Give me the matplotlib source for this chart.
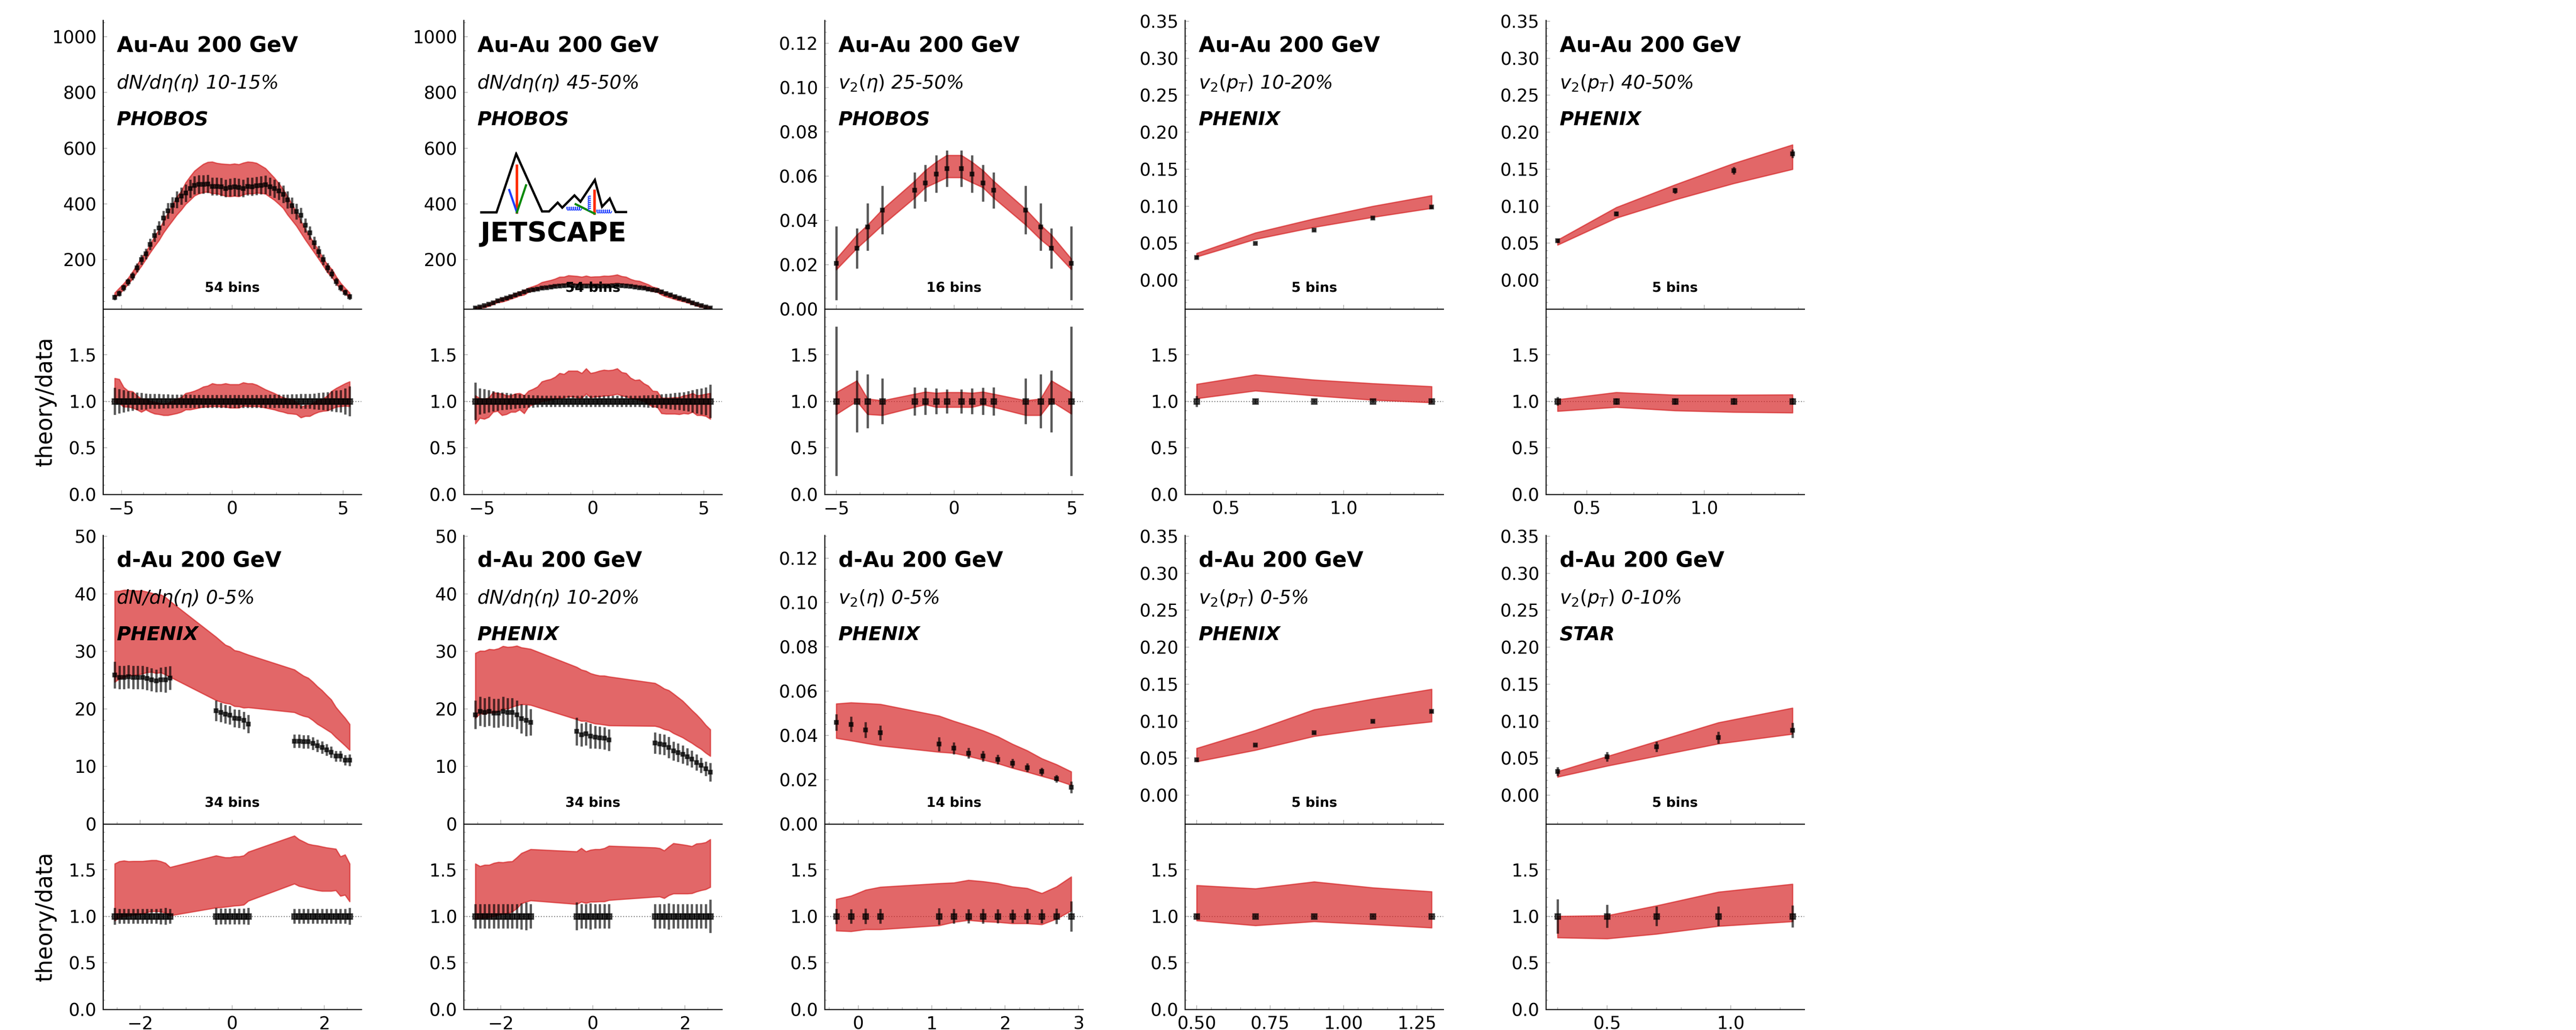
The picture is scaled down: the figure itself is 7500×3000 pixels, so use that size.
import numpy as np
import matplotlib
matplotlib.use('Agg')
import matplotlib.pyplot as plt
from matplotlib.ticker import MultipleLocator, AutoMinorLocator

plt.rcParams['font.family'] = ['DejaVu Sans']

# ---------------- data ----------------
# Au-Au 200 GeV, PHOBOS dN/deta, 54 bins
eta_auau = [-5.3, -5.1, -4.9, -4.7, -4.5, -4.3, -4.1, -3.9, -3.7, -3.5,
            -3.3, -3.1, -2.9, -2.7, -2.5, -2.3, -2.1, -1.9, -1.7, -1.5,
            -1.3, -1.1, -0.9, -0.7, -0.5, -0.3, -0.1, 0.1, 0.3, 0.5,
            0.7, 0.9, 1.1, 1.3, 1.5, 1.7, 1.9, 2.1, 2.3, 2.5,
            2.7, 2.9, 3.1, 3.3, 3.5, 3.7, 3.9, 4.1, 4.3, 4.5,
            4.7, 4.9, 5.1, 5.3]

dndeta_1015 = [65, 79, 99, 120, 141, 171, 200, 221, 255, 287,
               314, 349, 375, 395, 415, 428, 439, 455, 467, 470,
               470, 472, 463, 463, 461, 456, 459, 461, 459, 456,
               463, 462, 465, 467, 469, 462, 455, 447, 435, 415,
               394, 373, 359, 323, 296, 261, 229, 200, 171, 149,
               121, 99, 82, 67]
dndeta_1015_relerr = [0.145, 0.13, 0.12, 0.11, 0.10, 0.095, 0.09, 0.085, 0.08, 0.08,
                      0.078, 0.076, 0.075, 0.074, 0.073, 0.072, 0.072, 0.071, 0.07, 0.07,
                      0.07, 0.07, 0.07, 0.07, 0.07, 0.07, 0.07, 0.07, 0.07, 0.07,
                      0.07, 0.07, 0.07, 0.07, 0.07, 0.071, 0.072, 0.072, 0.073, 0.074,
                      0.075, 0.076, 0.078, 0.08, 0.08, 0.085, 0.09, 0.095, 0.10, 0.11,
                      0.115, 0.12, 0.14, 0.16]
dndeta_1015_hi = [1.246, 1.236, 1.15, 1.11, 1.105, 1.06, 1.025, 1.025, 1.0, 0.99,
                  0.98, 0.97, 0.98, 1.0, 1.025, 1.04, 1.085, 1.095, 1.11, 1.13,
                  1.155, 1.165, 1.19, 1.18, 1.18, 1.19, 1.18, 1.18, 1.18, 1.2,
                  1.19, 1.19, 1.175, 1.15, 1.125, 1.105, 1.085, 1.06, 1.04, 1.025,
                  1.015, 0.99, 0.94, 0.955, 0.955, 0.99, 1.015, 1.025, 1.06, 1.11,
                  1.14, 1.165, 1.19, 1.21]
dndeta_1015_lo = [0.99, 0.98, 0.94, 0.94, 0.93, 0.91, 0.885, 0.91, 0.885, 0.866,
                  0.86, 0.85, 0.85, 0.86, 0.87, 0.885, 0.91, 0.91, 0.92, 0.93,
                  0.94, 0.94, 0.945, 0.945, 0.94, 0.94, 0.93, 0.93, 0.93, 0.95,
                  0.945, 0.945, 0.945, 0.94, 0.93, 0.92, 0.91, 0.895, 0.885, 0.87,
                  0.866, 0.86, 0.825, 0.84, 0.84, 0.866, 0.885, 0.895, 0.9, 0.92,
                  0.94, 0.945, 0.95, 0.945]

dndeta_4550 = [27, 31, 35, 40, 45, 52, 57, 62, 67, 73,
               78, 85, 89, 92, 95, 98, 100, 102, 104, 106,
               107, 108, 107, 106, 106, 105, 106, 106, 105, 106,
               106, 107, 108, 107, 106, 104, 102, 100, 98, 95,
               92, 89, 85, 78, 73, 67, 62, 57, 52, 45,
               40, 35, 31, 27]
dndeta_4550_relerr = [0.2, 0.14, 0.13, 0.12, 0.11, 0.1, 0.095, 0.09, 0.085, 0.08,
                      0.075, 0.07, 0.068, 0.066, 0.064, 0.062, 0.06, 0.06, 0.06, 0.06,
                      0.06, 0.06, 0.06, 0.06, 0.06, 0.06, 0.06, 0.06, 0.06, 0.06,
                      0.06, 0.06, 0.06, 0.06, 0.06, 0.06, 0.06, 0.062, 0.064, 0.066,
                      0.068, 0.07, 0.075, 0.08, 0.085, 0.09, 0.095, 0.1, 0.11, 0.12,
                      0.13, 0.14, 0.15, 0.18]
dndeta_4550_hi = [1.06, 1.03, 1.025, 1.035, 1.095, 1.085, 1.08, 1.06, 1.06, 1.08,
                  1.085, 1.06, 1.11, 1.13, 1.155, 1.21, 1.225, 1.236, 1.26, 1.30,
                  1.29, 1.325, 1.325, 1.325, 1.30, 1.35, 1.30, 1.31, 1.325, 1.335,
                  1.33, 1.335, 1.35, 1.31, 1.30, 1.25, 1.225, 1.23, 1.19, 1.165,
                  1.11, 1.105, 1.035, 1.035, 1.035, 1.04, 1.04, 1.06, 1.067, 1.085,
                  1.06, 1.067, 1.077, 1.085]
dndeta_4550_lo = [0.76, 0.82, 0.81, 0.83, 0.885, 0.895, 0.85, 0.86, 0.885, 0.885,
                  0.91, 0.87, 0.945, 0.965, 0.98, 1.0, 1.007, 1.014, 1.025, 1.035,
                  1.04, 1.05, 1.05, 1.04, 1.035, 1.08, 1.04, 1.05, 1.05, 1.06,
                  1.06, 1.067, 1.077, 1.06, 1.05, 1.035, 1.025, 1.014, 1.0, 0.97,
                  0.94, 0.94, 0.87, 0.865, 0.865, 0.865, 0.86, 0.87, 0.865, 0.885,
                  0.85, 0.85, 0.84, 0.81]

# Au-Au v2(eta) 25-50% PHOBOS, 16 bins
eta_v2_auau = [-5.0, -4.13, -3.67, -3.04, -1.68, -1.22, -0.76, -0.31,
               0.31, 0.76, 1.22, 1.68, 3.04, 3.67, 4.13, 4.97]
v2eta_2550 = [0.0207, 0.0274, 0.037, 0.0447, 0.0536, 0.0569, 0.061, 0.0634,
              0.0634, 0.061, 0.0569, 0.0536, 0.0447, 0.037, 0.0274, 0.0207]
v2eta_2550_err = [0.0166, 0.0091, 0.0107, 0.0109, 0.0081, 0.0083, 0.0084, 0.0082,
                  0.0082, 0.0084, 0.0083, 0.0081, 0.0109, 0.0107, 0.0091, 0.0166]
v2eta_2550_hi = [1.095, 1.22, 1.025, 1.007, 1.077, 1.10, 1.088, 1.095,
                 1.095, 1.088, 1.10, 1.077, 1.007, 1.025, 1.22, 1.095]
v2eta_2550_lo = [0.86, 1.0, 0.86, 0.85, 0.937, 0.965, 0.937, 0.937,
                 0.937, 0.937, 0.965, 0.937, 0.85, 0.85, 1.0, 0.866]

# Au-Au v2(pT) PHENIX, 5 bins
pt_auau = [0.375, 0.625, 0.875, 1.125, 1.375]
v2pt_1020 = [0.0307, 0.0498, 0.0676, 0.084, 0.0987]
v2pt_1020_err = [0.0018, 0.0012, 0.0012, 0.0013, 0.0015]
v2pt_1020_hi = [1.183, 1.285, 1.229, 1.19, 1.158]
v2pt_1020_lo = [1.03, 1.113, 1.06, 1.014, 0.986]

v2pt_4050 = [0.0533, 0.0898, 0.1209, 0.148, 0.171]
v2pt_4050_err = [0.0025, 0.003, 0.004, 0.005, 0.006]
v2pt_4050_hi = [1.018, 1.095, 1.067, 1.067, 1.07]
v2pt_4050_lo = [0.894, 0.937, 0.90, 0.884, 0.877]

# d-Au 200 GeV, PHENIX dN/deta, 34 bins
eta_dau = [-2.55, -2.45, -2.35, -2.25, -2.15, -2.05, -1.95, -1.85, -1.75, -1.65,
           -1.55, -1.45, -1.35,
           -0.35, -0.25, -0.15, -0.05, 0.05, 0.15, 0.25, 0.35,
           1.35, 1.45, 1.55, 1.65, 1.75, 1.85, 1.95, 2.05, 2.15, 2.25,
           2.35, 2.45, 2.55]

dndeta_d05 = [25.9, 25.5, 25.5, 25.6, 25.5, 25.5, 25.5, 25.3, 25.1, 24.9,
              25.1, 25.1, 25.4,
              19.7, 19.4, 19.1, 18.9, 18.4, 18.3, 18.0, 17.4,
              14.4, 14.4, 14.3, 14.3, 14.0, 13.6, 13.3, 12.9, 12.5, 11.8,
              11.8, 11.1, 11.1]
dndeta_d05_relerr = [0.09, 0.08, 0.08, 0.08, 0.08, 0.08, 0.08, 0.08, 0.08, 0.08,
                     0.085, 0.09, 0.08,
                     0.09, 0.085, 0.085, 0.085, 0.085, 0.085, 0.085, 0.09,
                     0.08, 0.08, 0.08, 0.08, 0.08, 0.08, 0.08, 0.08, 0.08, 0.08,
                     0.08, 0.08, 0.09]
dndeta_d05_hi = [1.563, 1.588, 1.595, 1.588, 1.59, 1.59, 1.59, 1.595, 1.6, 1.6,
                 1.588, 1.57, 1.525,
                 1.65, 1.64, 1.63, 1.63, 1.64, 1.64, 1.65, 1.69,
                 1.863, 1.824, 1.8, 1.775, 1.764, 1.757, 1.746, 1.736, 1.729, 1.722,
                 1.64, 1.66, 1.563]
dndeta_d05_lo = [0.954, 0.99, 1.0, 1.007, 1.014, 1.018, 1.025, 1.042, 1.053, 1.053,
                 1.05, 1.035, 1.007,
                 1.092, 1.095, 1.1, 1.106, 1.113, 1.116, 1.123, 1.165,
                 1.349, 1.324, 1.313, 1.3, 1.289, 1.278, 1.271, 1.271, 1.271, 1.278,
                 1.218, 1.229, 1.158]

dndeta_d1020 = [19.0, 19.6, 19.4, 19.6, 19.3, 19.3, 19.6, 19.4, 19.4, 19.0,
                18.3, 18.0, 17.7,
                16.1, 15.5, 15.7, 15.3, 15.1, 15.0, 14.9, 14.6,
                14.1, 13.9, 13.8, 13.3, 12.7, 12.4, 12.1, 11.7, 11.3, 10.7,
                10.2, 9.6, 9.0]
dndeta_d1020_relerr = [0.13, 0.13, 0.13, 0.13, 0.13, 0.13, 0.13, 0.13, 0.13, 0.13,
                       0.14, 0.15, 0.13,
                       0.15, 0.13, 0.13, 0.14, 0.13, 0.13, 0.13, 0.13,
                       0.13, 0.13, 0.13, 0.14, 0.13, 0.13, 0.13, 0.13, 0.13, 0.13,
                       0.13, 0.13, 0.18]
dndeta_d1020_hi = [1.563, 1.535, 1.55, 1.55, 1.57, 1.58, 1.577, 1.585, 1.588, 1.63,
                   1.676, 1.697, 1.718,
                   1.694, 1.73, 1.694, 1.711, 1.718, 1.718, 1.729, 1.754,
                   1.736, 1.729, 1.704, 1.746, 1.782, 1.775, 1.768, 1.76, 1.75, 1.778,
                   1.782, 1.792, 1.824]
dndeta_d1020_lo = [0.97, 0.98, 0.986, 0.99, 1.0, 1.014, 1.025, 1.032, 1.05, 1.085,
                   1.137, 1.155, 1.169,
                   1.13, 1.155, 1.141, 1.155, 1.155, 1.158, 1.158, 1.173,
                   1.208, 1.211, 1.194, 1.225, 1.243, 1.243, 1.243, 1.243, 1.246, 1.264,
                   1.278, 1.289, 1.313]

# d-Au v2(eta) 0-5% PHENIX, 14 bins
eta_v2_dau = [-0.3, -0.1, 0.1, 0.3, 1.1, 1.3, 1.5, 1.7, 1.9, 2.1, 2.3, 2.5, 2.7, 2.9]
v2eta_d05 = [0.0459, 0.0450, 0.0425, 0.0412, 0.0361, 0.0342, 0.0320, 0.0307,
             0.0292, 0.0274, 0.0255, 0.0237, 0.0204, 0.0166]
v2eta_d05_err = [0.0037, 0.0035, 0.0035, 0.0033, 0.0032, 0.0027, 0.0024, 0.0024,
                 0.0022, 0.002, 0.002, 0.0018, 0.0017, 0.0027]
v2eta_d05_hi = [1.183, 1.218, 1.282, 1.313, 1.352, 1.359, 1.387, 1.373,
                1.352, 1.317, 1.3, 1.246, 1.317, 1.423]
v2eta_d05_lo = [0.845, 0.838, 0.859, 0.859, 0.901, 0.937, 0.958, 0.944,
                0.937, 0.923, 0.923, 0.912, 0.972, 1.06]

# d-Au v2(pT)
pt_dau_phenix = [0.5, 0.7, 0.9, 1.1, 1.3]
v2pt_d05 = [0.0476, 0.0676, 0.0844, 0.0996, 0.1133]
v2pt_d05_err = [0.001, 0.001, 0.0012, 0.0012, 0.0013]
v2pt_d05_hi = [1.331, 1.296, 1.37, 1.306, 1.264]
v2pt_d05_lo = [0.954, 0.901, 0.944, 0.912, 0.877]

pt_dau_star = [0.3, 0.5, 0.7, 0.95, 1.25]
v2pt_d010 = [0.032, 0.052, 0.0653, 0.0778, 0.0876]
v2pt_d010_err = [0.0059, 0.0064, 0.0069, 0.0082, 0.0103]
v2pt_d010_hi = [1.0, 1.007, 1.113, 1.26, 1.345]
v2pt_d010_lo = [0.771, 0.76, 0.81, 0.894, 0.944]

# ---------------- layout ----------------
fig = plt.figure(figsize=(25, 10), dpi=300)

col_left = [0.04, 0.18, 0.3201, 0.46, 0.6001]
row_bottom = [0.52, 0.02]
W = 0.1003
MAIN_H = 0.2803
RATIO_H = 0.18

TICK_GREY = '#b4b4b4'


def style_axis(a):
    a.patch.set_visible(False)
    a.spines['top'].set_visible(False)
    a.spines['right'].set_visible(False)
    for s in ['left', 'bottom']:
        a.spines[s].set_linewidth(0.75)
        a.spines[s].set_color('k')
    a.tick_params(which='both', direction='in', color=TICK_GREY,
                  labelcolor='k', labelsize=12.3, width=0.55, pad=4.5)
    a.tick_params(which='major', length=2.9)
    a.tick_params(which='minor', length=1.5)
    a.xaxis.set_minor_locator(AutoMinorLocator())
    a.yaxis.set_minor_locator(AutoMinorLocator())


def draw_logo(ax):
    lg = ax.inset_axes([0.064, 0.229, 0.569, 0.316])
    lg.set_xlim(425, 1038)
    lg.set_ylim(745, 455)
    lg.axis('off')
    mx = [425, 493, 575, 683, 712, 748, 767, 818, 843, 903, 933, 965, 990, 1035]
    my = [648, 648, 462, 645, 645, 617, 633, 594, 614, 545, 630, 604, 647, 647]
    lg.plot(mx, my, color='k', lw=1.6, solid_joinstyle='miter')
    lg.plot([578, 578], [500, 648], color='#ff2a00', lw=1.8)
    lg.plot([546, 578], [577, 648], color='#1f3fff', lw=1.5)
    lg.plot([578, 616], [648, 562], color='#0a8a0a', lw=1.5)
    lg.plot([902, 902], [580, 652], color='#ff2a00', lw=1.8)
    lg.plot([823, 902], [622, 652], color='#0a8a0a', lw=1.5)
    # gluon coils
    t = np.linspace(0, 7 * 2 * np.pi, 300)
    lg.plot(785 + 60 * t / t[-1] + 3 * np.cos(t), 636 - 5 * np.sin(t), color='#1f3fff', lw=0.6)
    lg.plot(910 + 60 * t / t[-1] + 3 * np.cos(t), 645 - 5 * np.sin(t), color='#1f3fff', lw=0.6)
    lg.plot(880 + 5 * np.sin(t), 595 + 45 * t / t[-1] + 2 * np.cos(t), color='#1f3fff', lw=0.6)
    lg.text(425, 740, 'JETSCAPE', ha='left', va='baseline',
            fontsize=19, fontweight='heavy', color='k')


def draw_panel(col, row, x, y, yerr, lo, hi, system, obs, expt, nbins,
               ylim, ystep, xstep, ratio_label=False, logo=False):
    left = col_left[col]
    bottom = row_bottom[row]
    ax = fig.add_axes([left, bottom + RATIO_H, W, MAIN_H])
    axr = fig.add_axes([left, bottom, W, RATIO_H], sharex=ax)

    x = np.asarray(x)
    y = np.asarray(y)
    yerr = np.asarray(yerr)
    lo = np.asarray(lo)
    hi = np.asarray(hi)

    ax.fill_between(x, y * lo, y * hi, color='tab:red', alpha=0.7, lw=0.9, zorder=1)
    ax.errorbar(x, y, yerr=yerr, fmt='s', color='k', ms=2.4, elinewidth=1.6,
                alpha=0.65, capsize=0, zorder=3)

    axr.axhline(1.0, ls=':', color='grey', lw=0.7, zorder=0)
    axr.fill_between(x, lo, hi, color='tab:red', alpha=0.7, lw=0.9, zorder=1)
    axr.errorbar(x, np.ones_like(y), yerr=yerr / y, fmt='s', color='k', ms=3.6,
                 elinewidth=1.6, alpha=0.65, capsize=0, zorder=3)

    ax.set_ylim(*ylim)
    axr.set_ylim(0, 1.99)
    ax.yaxis.set_major_locator(MultipleLocator(ystep))
    axr.yaxis.set_major_locator(MultipleLocator(0.5))
    ax.xaxis.set_major_locator(MultipleLocator(xstep))

    style_axis(ax)
    style_axis(axr)
    ax.tick_params(axis='x', labelbottom=False)

    ax.text(0.053, 0.891, system, transform=ax.transAxes, fontsize=15,
            fontweight='bold', va='baseline')
    ax.text(0.053, 0.763, obs, transform=ax.transAxes, fontsize=13.2,
            style='italic', va='baseline')
    ax.text(0.053, 0.637, expt, transform=ax.transAxes, fontsize=13.5,
            fontweight='bold', style='italic', va='baseline')
    ax.text(0.5, 0.06, nbins, transform=ax.transAxes, fontsize=9.4,
            fontweight='bold', ha='center', va='baseline', zorder=5)

    if ratio_label:
        axr.set_ylabel('theory/data', fontsize=15.5)
        axr.yaxis.set_label_coords(-0.18, 0.5)
    if logo:
        draw_logo(ax)
    return ax, axr


rel = lambda v, r: np.asarray(v) * np.asarray(r)

# top row: Au-Au
draw_panel(0, 0, eta_auau, dndeta_1015, rel(dndeta_1015, dndeta_1015_relerr),
           dndeta_1015_lo, dndeta_1015_hi, 'Au-Au 200 GeV', 'dN/dη(η) 10-15%',
           'PHOBOS', '54 bins', (23, 1059), 200, 5, ratio_label=True)
draw_panel(1, 0, eta_auau, dndeta_4550, rel(dndeta_4550, dndeta_4550_relerr),
           dndeta_4550_lo, dndeta_4550_hi, 'Au-Au 200 GeV', 'dN/dη(η) 45-50%',
           'PHOBOS', '54 bins', (23, 1059), 200, 5, logo=True)
draw_panel(2, 0, eta_v2_auau, v2eta_2550, v2eta_2550_err, v2eta_2550_lo, v2eta_2550_hi,
           'Au-Au 200 GeV', r'$v_2(\eta)$ 25-50%', 'PHOBOS', '16 bins',
           (0, 0.1304), 0.02, 5)
draw_panel(3, 0, pt_auau, v2pt_1020, v2pt_1020_err, v2pt_1020_lo, v2pt_1020_hi,
           'Au-Au 200 GeV', r'$v_2(p_T)$ 10-20%', 'PHENIX', '5 bins',
           (-0.039, 0.3513), 0.05, 0.5)
draw_panel(4, 0, pt_auau, v2pt_4050, v2pt_4050_err, v2pt_4050_lo, v2pt_4050_hi,
           'Au-Au 200 GeV', r'$v_2(p_T)$ 40-50%', 'PHENIX', '5 bins',
           (-0.039, 0.3513), 0.05, 0.5)

# bottom row: d-Au
draw_panel(0, 1, eta_dau, dndeta_d05, rel(dndeta_d05, dndeta_d05_relerr),
           dndeta_d05_lo, dndeta_d05_hi, 'd-Au 200 GeV', 'dN/dη(η) 0-5%',
           'PHENIX', '34 bins', (0, 50.2), 10, 2, ratio_label=True)
draw_panel(1, 1, eta_dau, dndeta_d1020, rel(dndeta_d1020, dndeta_d1020_relerr),
           dndeta_d1020_lo, dndeta_d1020_hi, 'd-Au 200 GeV', 'dN/dη(η) 10-20%',
           'PHENIX', '34 bins', (0, 50.2), 10, 2)
draw_panel(2, 1, eta_v2_dau, v2eta_d05, v2eta_d05_err, v2eta_d05_lo, v2eta_d05_hi,
           'd-Au 200 GeV', r'$v_2(\eta)$ 0-5%', 'PHENIX', '14 bins',
           (0, 0.1304), 0.02, 1)
draw_panel(3, 1, pt_dau_phenix, v2pt_d05, v2pt_d05_err, v2pt_d05_lo, v2pt_d05_hi,
           'd-Au 200 GeV', r'$v_2(p_T)$ 0-5%', 'PHENIX', '5 bins',
           (-0.039, 0.3513), 0.05, 0.25)
draw_panel(4, 1, pt_dau_star, v2pt_d010, v2pt_d010_err, v2pt_d010_lo, v2pt_d010_hi,
           'd-Au 200 GeV', r'$v_2(p_T)$ 0-10%', 'STAR', '5 bins',
           (-0.039, 0.3513), 0.05, 0.5)

fig.savefig('out.png', dpi=300)
